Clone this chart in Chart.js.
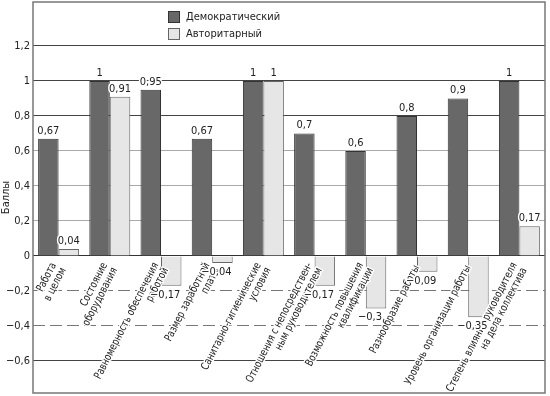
<!DOCTYPE html>
<html>
<head>
<meta charset="utf-8">
<script src="https://cdn.jsdelivr.net/npm/chart.js@4.4.1/dist/chart.umd.min.js"></script>
<style>
  html, body { margin: 0; padding: 0; background: #fff; }
  #wrap { width: 550px; height: 396px; }
</style>
</head>
<body>
<div id="wrap"><canvas id="styleChart"></canvas></div>
<script>
const categories = [
  ['Работа', 'в целом'],
  ['Состояние', 'оборудования'],
  ['Равномерность обеспечения', 'работой'],
  ['Размер заработной', 'платы'],
  ['Санитарно-гигиенические', 'условия'],
  ['Отношения с непосредствен-', 'ным руководителем'],
  ['Возможность повышения', 'квалификации'],
  ['Разнообразие работы'],
  ['Уровень организации работы'],
  ['Степень влияния руководителя', 'на дела коллектива']
];
const democratic = [0.67, 1, 0.95, 0.67, 1, 0.7, 0.6, 0.8, 0.9, 1];
const authoritarian = [0.04, 0.91, -0.17, -0.04, 1, -0.17, -0.3, -0.09, -0.35, 0.17];
const yTicks = [-0.6, -0.4, -0.2, 0, 0.2, 0.4, 0.6, 0.8, 1, 1.2];

const FONT = "'Liberation Sans Narrow', 'DejaVu Sans Condensed', 'Arial Narrow', sans-serif";

const fmt = (v) => {
  const s = String(Math.abs(Math.round(v * 100) / 100)).replace('.', ',');
  return v < 0 ? '\u2212' + s : s;
};

// text with white halo, so grid lines break behind it
const haloText = (ctx, text, x, y) => {
  ctx.save();
  ctx.lineWidth = 3;
  ctx.strokeStyle = '#fff';
  ctx.lineJoin = 'round';
  ctx.strokeText(text, x, y);
  ctx.restore();
  ctx.fillText(text, x, y);
};

const extras = {
  id: 'extras',
  afterDatasetsDraw(chart) {
    const { ctx, chartArea, scales } = chart;
    const x = scales.x, y = scales.y;
    const zeroY = y.getPixelForValue(0);

    // category labels, rotated, inside the plot
    ctx.save();
    ctx.font = '11px ' + FONT;
    ctx.fillStyle = '#222';
    ctx.textAlign = 'right';
    ctx.textBaseline = 'middle';
    categories.forEach((lines, i) => {
      const cx = x.getPixelForValue(i);
      ctx.save();
      ctx.translate(cx, zeroY + 10);
      ctx.rotate(-63 * Math.PI / 180);
      ctx.scale(0.86, 1);
      lines.forEach((line, j) => {
        const off = (j - (lines.length - 1) / 2) * 11;
        haloText(ctx, line, 0, off);
      });
      ctx.restore();
    });
    ctx.restore();

    // value labels
    ctx.save();
    ctx.font = '11px ' + FONT;
    ctx.fillStyle = '#222';
    ctx.textAlign = 'center';
    ctx.textBaseline = 'middle';
    chart.data.datasets.forEach((ds, di) => {
      chart.getDatasetMeta(di).data.forEach((bar, i) => {
        const v = ds.data[i];
        if (v >= 0) {
          haloText(ctx, fmt(v), bar.x, bar.y - 8);
        } else {
          haloText(ctx, fmt(v), bar.x - 6, bar.y + 9);
        }
      });
    });
    ctx.restore();

    // legend
    ctx.save();
    ctx.font = '11px ' + FONT;
    ctx.textBaseline = 'middle';
    ctx.textAlign = 'left';
    chart.data.datasets.forEach((ds, di) => {
      const ly = chartArea.top + 15 + di * 17;
      ctx.fillStyle = ds.backgroundColor;
      ctx.fillRect(168.5, ly - 5.5, 11, 11);
      ctx.strokeStyle = ds.borderColor;
      ctx.lineWidth = 1;
      ctx.strokeRect(168.5, ly - 5.5, 11, 11);
      ctx.fillStyle = '#222';
      ctx.fillText(ds.label, 186, ly);
    });
    ctx.restore();

    // frame
    ctx.save();
    ctx.strokeStyle = '#777';
    ctx.lineWidth = 1.5;
    ctx.strokeRect(chartArea.left, chartArea.top, chartArea.right - chartArea.left, chartArea.bottom - chartArea.top);
    ctx.restore();
  }
};

const gridColor = (v) => {
  if (v === 0) return '#333';
  if (v === -0.2 || v === -0.4) return '#777';
  if (v >= 0.8 || v <= -0.6) return '#444';
  return '#aaa';
};

new Chart(document.getElementById('styleChart'), {
  type: 'bar',
  data: {
    labels: categories,
    datasets: [
      {
        label: 'Демократический',
        data: democratic,
        backgroundColor: '#686868',
        borderColor: '#333',
        borderWidth: 1
      },
      {
        label: 'Авторитарный',
        data: authoritarian,
        backgroundColor: '#e6e6e6',
        borderColor: '#666',
        borderWidth: 1
      }
    ]
  },
  options: {
    responsive: true,
    maintainAspectRatio: false,
    animation: false,
    layout: { padding: { top: 2, right: 5, bottom: 3, left: 0 } },
    datasets: {
      bar: { categoryPercentage: 0.8, barPercentage: 1 }
    },
    plugins: {
      legend: { display: false },
      tooltip: { enabled: false }
    },
    scales: {
      x: { display: false },
      y: {
        min: -0.783,
        max: 1.451,
        afterBuildTicks: (scale) => {
          scale.ticks = yTicks.map(v => ({ value: v }));
        },
        afterFit: (scale) => {
          scale.width = 33;
          scale.paddingTop = 0;
          scale.paddingBottom = 0;
        },
        grid: {
          drawTicks: false,
          color: (c) => c.tick ? gridColor(c.tick.value) : '#777',
          lineWidth: 1
        },
        border: {
          display: false,
          dash: (c) => (c.tick && (c.tick.value === -0.2 || c.tick.value === -0.4)) ? [12, 5] : []
        },
        ticks: {
          padding: 3,
          color: '#222',
          font: { family: FONT, size: 11 },
          callback: (v) => fmt(v)
        },
        title: {
          display: true,
          text: 'Баллы',
          color: '#222',
          font: { family: FONT, size: 11 },
          padding: 0
        }
      }
    }
  },
  plugins: [extras]
});
</script>
</body>
</html>
